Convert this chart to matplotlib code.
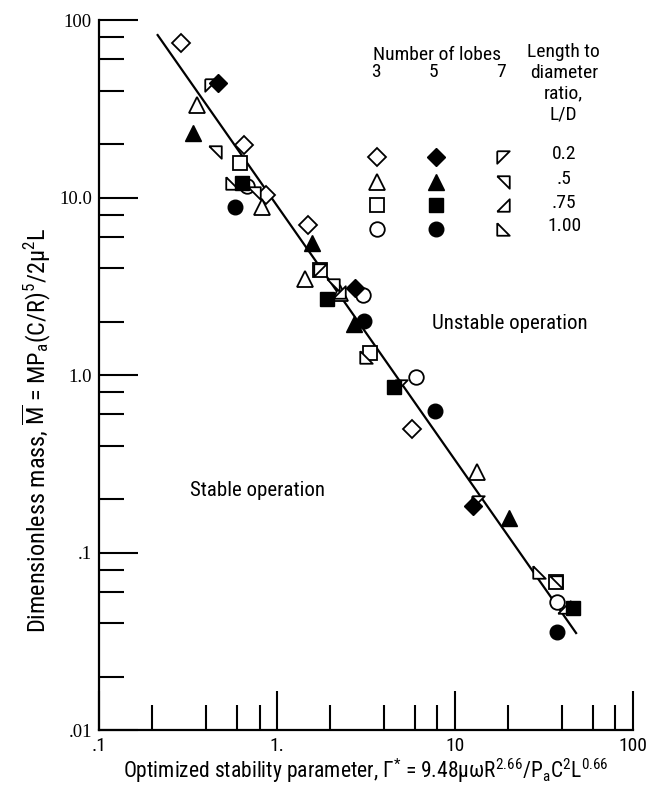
import matplotlib
matplotlib.use("Agg")
import matplotlib.pyplot as plt
from matplotlib.ticker import FixedLocator, FixedFormatter, NullFormatter

SANS = ["Roboto Condensed", "DejaVu Sans"]
SERIF = ["Liberation Serif", "DejaVu Serif"]
plt.rcParams["font.family"] = SANS
plt.rcParams["mathtext.fontset"] = "custom"
plt.rcParams["mathtext.rm"] = "Roboto Condensed"
plt.rcParams["mathtext.it"] = "Roboto Condensed"
plt.rcParams["mathtext.bf"] = "Roboto Condensed:bold"
plt.rcParams["mathtext.fallback"] = "stixsans"

# ---------------- data ----------------
# 3 lobes (open symbols)
l3_ld02_x = [0.288, 0.656, 0.865, 1.49, 5.76]
l3_ld02_y = [74.2, 19.8, 10.3, 7.0, 0.496]
l3_ld05_x = [0.356, 0.822, 1.44, 2.27, 13.3]
l3_ld05_y = [33.2, 8.84, 3.47, 2.90, 0.284]
l3_ld075_x = [0.624, 1.75, 3.36, 36.9]
l3_ld075_y = [15.6, 3.91, 1.33, 0.0682]
l3_ld10_x = [0.676, 3.05, 6.09, 37.5]
l3_ld10_y = [11.6, 2.82, 0.975, 0.0526]
# 5 lobes (filled symbols)
l5_ld02_x = [0.466, 2.75, 12.6]
l5_ld02_y = [44.2, 3.09, 0.183]
l5_ld05_x = [0.336, 1.57, 2.73, 20.3]
l5_ld05_y = [23.1, 5.54, 1.94, 0.156]
l5_ld075_x = [0.634, 1.92, 4.54, 46.1]
l5_ld075_y = [12.1, 2.68, 0.855, 0.0487]
l5_ld10_x = [0.582, 3.10, 7.71, 37.7]
l5_ld10_y = [8.84, 2.01, 0.627, 0.0357]
# 7 lobes (right-triangle symbols)
l7_ld02_x = [0.425, 1.75, 4.97, 13.6]
l7_ld02_y = [43.0, 3.91, 0.867, 0.193]
l7_ld05_x = [0.447, 0.741, 2.07, 36.9]
l7_ld05_y = [18.0, 10.6, 3.22, 0.0682]
l7_ld075_x = [2.24, 41.1]
l7_ld075_y = [2.94, 0.0493]
l7_ld10_x = [0.557, 3.16, 29.6]
l7_ld10_y = [12.1, 1.26, 0.0777]

# fitted boundary line
line_x = [0.214, 48.1]
line_y = [82.3, 0.0352]

x_ticks = [0.1, 1, 10, 100]
x_tick_labels = [".1", "1.", "10", "100"]
y_ticks = [0.01, 0.1, 1, 10, 100]
y_tick_labels = [".01", ".1", "1.0", "10.0", "100"]
lobe_labels = ["3", "5", "7"]
ld_labels = ["0.2", ".5", ".75", "1.00"]

# ---------------- figure ----------------
fig = plt.figure(figsize=(6.59, 7.86), dpi=100)
ax = fig.add_axes([0.150, 0.0712, 0.810, 0.9033])
ax.set_xscale("log")
ax.set_yscale("log")
ax.set_xlim(0.1, 100)
ax.set_ylim(0.01, 100)

# markers
tri02 = [(-1, 1), (1, 1), (-1, -1), (-1, 1)]     # upper-left right triangle
tri05 = [(-1, 1), (1, 1), (1, -1), (-1, 1)]      # upper-right
tri075 = [(-1, -1), (1, -1), (1, 1), (-1, -1)]   # lower-right
tri10 = [(-1, 1), (-1, -1), (1, -1), (-1, 1)]    # lower-left

open_kw = dict(linestyle="none", mfc="white", mec="black", mew=1.3)
fill_kw = dict(linestyle="none", mfc="black", mec="black", mew=1.0)

ax.plot(line_x, line_y, color="black", lw=1.6, zorder=2)

D_MS, T_MS, S_MS, C_MS, R_MS = 9, 11, 10, 10.5, 9
sets = [
    (l3_ld02_x, l3_ld02_y, "D", D_MS, open_kw),
    (l3_ld05_x, l3_ld05_y, "^", T_MS, open_kw),
    (l3_ld075_x, l3_ld075_y, "s", S_MS, open_kw),
    (l3_ld10_x, l3_ld10_y, "o", C_MS, open_kw),
    (l7_ld02_x, l7_ld02_y, tri02, R_MS, open_kw),
    (l7_ld05_x, l7_ld05_y, tri05, R_MS, open_kw),
    (l7_ld075_x, l7_ld075_y, tri075, R_MS, open_kw),
    (l7_ld10_x, l7_ld10_y, tri10, R_MS, open_kw),
    (l5_ld02_x, l5_ld02_y, "D", D_MS, fill_kw),
    (l5_ld05_x, l5_ld05_y, "^", T_MS, fill_kw),
    (l5_ld075_x, l5_ld075_y, "s", S_MS, fill_kw),
    (l5_ld10_x, l5_ld10_y, "o", C_MS, fill_kw),
]
for xs, ys, mk, ms, kw in sets:
    ax.plot(xs, ys, marker=mk, ms=ms, zorder=3, **kw)

# axes styling
for s in ["top", "right"]:
    ax.spines[s].set_visible(False)
for s in ["left", "bottom"]:
    ax.spines[s].set_linewidth(1.6)

ax.xaxis.set_major_locator(FixedLocator(x_ticks))
ax.xaxis.set_major_formatter(FixedFormatter(x_tick_labels))
ax.yaxis.set_major_locator(FixedLocator(y_ticks))
ax.yaxis.set_major_formatter(FixedFormatter(y_tick_labels))
minors = []
for d in [0.01, 0.1, 1, 10]:
    minors += [2 * d, 4 * d, 6 * d, 8 * d]
ax.xaxis.set_minor_locator(FixedLocator([m for m in minors if m > 0.1]))
ax.yaxis.set_minor_locator(FixedLocator(minors))
ax.xaxis.set_minor_formatter(NullFormatter())
ax.yaxis.set_minor_formatter(NullFormatter())
ax.tick_params(which="major", direction="in", length=28, width=1.5, pad=5)
ax.tick_params(which="minor", direction="in", length=18, width=1.5)
for lab in ax.get_yticklabels():
    lab.set_family(SERIF)
    lab.set_fontsize(13.5)
for lab in ax.get_xticklabels():
    lab.set_fontsize(14)

ax.set_xlabel("Optimized stability parameter, Γ$^{*}$ = 9.48μωR$^{2.66}$/P$_{\\mathrm{a}}$C$^{2}$L$^{0.66}$",
              fontsize=15.5, labelpad=1)
ax.set_ylabel("Dimensionless mass, $\\overline{\\mathrm{M}}$ = MP$_{\\mathrm{a}}$(C/R)$^{5}$/2μ$^{2}$L",
              fontsize=17.5)
ax.yaxis.set_label_coords(-0.086, 0.422)

# region labels
ax.text(0.770, 0.573, "Unstable operation", transform=ax.transAxes, fontsize=15,
        ha="center", va="center")
ax.text(0.298, 0.338, "Stable operation", transform=ax.transAxes, fontsize=15,
        ha="center", va="center")

# key
T = ax.transAxes
FS = 14
ax.text(0.513, 0.951, "Number of lobes", transform=T, fontsize=FS, ha="left", va="center")
ax.text(0.871, 0.968, "Length to\ndiameter\nratio,\nL/D", transform=T, fontsize=FS,
        ha="center", va="top", linespacing=1.2)
for lx, lab in zip([0.519, 0.627, 0.753], lobe_labels):
    ax.text(lx, 0.927, lab, transform=T, fontsize=FS, ha="center", va="center")
rows = [0.807, 0.772, 0.739, 0.706]
col_x = [0.522, 0.631, 0.757]
open_mk = [("D", D_MS), ("^", T_MS), ("s", S_MS), ("o", C_MS)]
tri_mk = [tri02, tri05, tri075, tri10]
for ry, (mk, ms), tmk, lab in zip(rows, open_mk, tri_mk, ld_labels):
    ax.plot([col_x[0]], [ry], marker=mk, ms=ms, transform=T, clip_on=False, **open_kw)
    ax.plot([col_x[1]], [ry], marker=mk, ms=ms, transform=T, clip_on=False, **fill_kw)
    ax.plot([col_x[2]], [ry], marker=tmk, ms=R_MS, transform=T, clip_on=False, **open_kw)
    ax.text(0.872, ry + 0.004, lab, transform=T, fontsize=FS, ha="center", va="center")

fig.savefig("out.png", dpi=100)
